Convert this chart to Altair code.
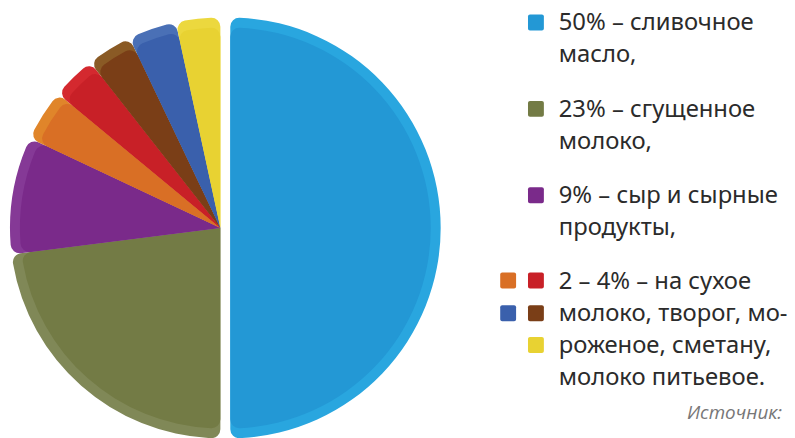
import math
import altair as alt
import pandas as pd

# ---- data ----
categories = ["сливочное масло", "сгущенное молоко", "сыр и сырные продукты",
              "сухое молоко", "творог", "мороженое", "сметана", "молоко питьевое"]
values = [50, 23, 9, 4.0, 3.4, 3.5, 3.7, 3.4]

legend_lines = ["50% – сливочное", "масло,",
                "23% – сгущенное", "молоко,",
                "9% – сыр и сырные", "продукты,",
                "2 – 4% – на сухое", "молоко, творог, мо-",
                "роженое, сметану,", "молоко питьевое."]
source_label = "Источник:"

# ---- styles ----
outer_colors = ["#29a6df", "#808857", "#853996", "#e0852a", "#d4292f", "#8a5a25", "#4a70b6", "#ecd83e"]
inner_colors = ["#2398d5", "#737b45", "#7a2a8a", "#d96f25", "#c82027", "#7a3e17", "#3a60ac", "#e8d232"]

df = pd.DataFrame({"cat": categories, "value": values, "order": list(range(len(categories)))})

base = (alt.Chart(df)
        .transform_window(end="sum(value)", sort=[alt.SortField("order")], frame=[None, 0])
        .transform_calculate(start="datum.end - datum.value"))

theta = alt.Theta("start:Q", scale=alt.Scale(domain=[0, 100], range=[0, 2 * math.pi]))
theta2 = alt.Theta2("end:Q")

CX, CY = 214, 220
layers = []
for colors, radius in [(outer_colors, 212), (inner_colors, 202)]:
    col = alt.Color("cat:N", scale=alt.Scale(domain=categories, range=colors), legend=None)
    big = (base.transform_filter(alt.datum.order == 0)
           .mark_arc(outerRadius=radius, innerRadius=0, cornerRadius=9)
           .encode(theta=theta, theta2=theta2, color=col,
                   x=alt.value(CX + 10), y=alt.value(CY)))
    rest = (base.transform_filter(alt.datum.order > 0)
            .mark_arc(outerRadius=radius, innerRadius=0, cornerRadius=9)
            .encode(theta=theta, theta2=theta2, color=col,
                    x=alt.value(CX), y=alt.value(CY)))
    layers += [big, rest]

dummy = alt.Chart(pd.DataFrame({"a": [0]}))

# legend squares: (color index, x, y) in chart coords
squares = [(0, 524, 5), (1, 524, 92), (2, 524, 179),
           (3, 496, 265), (4, 524, 265),
           (6, 496, 298), (5, 524, 298),
           (7, 524, 330)]
for ci, sx, sy in squares:
    layers.append(dummy.mark_rect(color=inner_colors[ci], cornerRadius=2).encode(
        x=alt.value(sx), x2=alt.value(sx + 16), y=alt.value(sy), y2=alt.value(sy + 16)))

baselines = [21, 53, 108, 140, 195, 227, 282, 314, 346, 378]
for txt, by in zip(legend_lines, baselines):
    layers.append(dummy.mark_text(align="left", baseline="alphabetic", font="Noto Sans",
                                  fontSize=24, color="#2b2b2b").encode(
        x=alt.value(555), y=alt.value(by), text=alt.value(txt)))

layers.append(dummy.mark_text(align="right", baseline="alphabetic", font="Open Sans",
                              fontStyle="italic", fontSize=19, color="#777777").encode(
    x=alt.value(780), y=alt.value(413), text=alt.value(source_label)))

chart = (alt.layer(*layers)
         .resolve_scale(color="independent")
         .properties(width=785, height=430, padding=0,
                     autosize=alt.AutoSizeParams(type="none"))
         .configure_view(stroke=None))

chart.save("out.html", embed_options={"renderer": "svg", "actions": False})
